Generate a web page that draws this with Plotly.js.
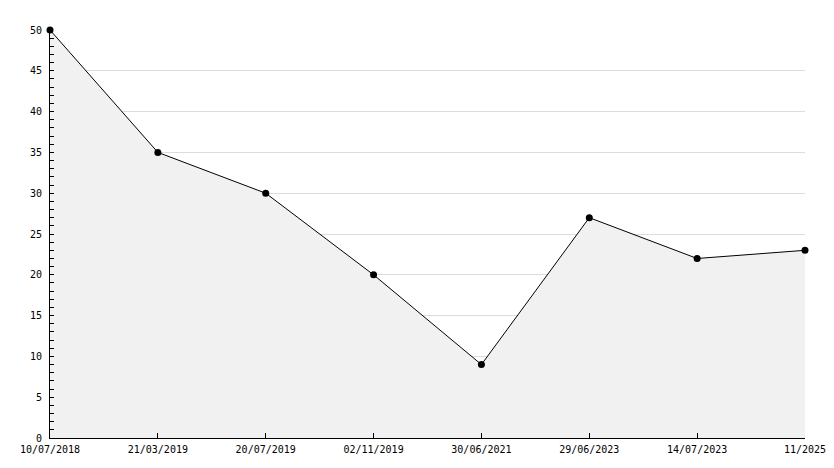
<!DOCTYPE html>
<html>
<head>
<meta charset="utf-8">
<script src="https://cdn.plot.ly/plotly-3.0.1.min.js"></script>
<style>html,body{margin:0;padding:0;background:#fff;}#chart{width:834px;height:468px;}</style>
</head>
<body>
<div id="chart"></div>
<script>
const dateLabels = ["10/07/2018", "21/03/2019", "20/07/2019", "02/11/2019", "30/06/2021", "29/06/2023", "14/07/2023", "11/2025"];
const values = [50, 35, 30, 20, 9, 27, 22, 23];

const idx = dateLabels.map((_, i) => i);
const lastI = idx[idx.length - 1];
const lastV = values[values.length - 1];

const traces = [
  {
    x: [lastI, lastI], y: [0, lastV], type: 'scatter', mode: 'lines',
    line: {color: '#000', width: 1}, hoverinfo: 'skip', showlegend: false
  },
  {
    x: idx, y: values, type: 'scatter', mode: 'lines+markers',
    fill: 'tozeroy', fillcolor: '#f1f1f1',
    line: {color: '#000', width: 1},
    marker: {color: '#000', size: 7, symbol: 'circle'},
    cliponaxis: false,
    hoverinfo: 'skip'
  }
];

const font = {family: '"DejaVu Sans Mono", monospace', size: 10, color: '#000'};

const layout = {
  width: 834, height: 468,
  margin: {l: 50, r: 29, t: 30, b: 30},
  paper_bgcolor: '#fff', plot_bgcolor: '#fff',
  showlegend: false,
  font: font,
  xaxis: {
    range: [0, lastI], tickmode: 'array', tickvals: idx, ticktext: dateLabels,
    showgrid: false, zeroline: false,
    showline: true, linecolor: '#000', linewidth: 1,
    ticks: 'inside', ticklen: 5, tickcolor: '#000', tickwidth: 1,
    ticklabelstandoff: 2,
    tickfont: font, fixedrange: true
  },
  yaxis: {
    range: [0, 50], tick0: 0, dtick: 5,
    showgrid: true, gridcolor: '#dcdcdc', gridwidth: 1,
    zeroline: false,
    showline: true, linecolor: '#000', linewidth: 1,
    ticks: 'inside', ticklen: 4, tickcolor: '#000', tickwidth: 1,
    minor: {ticks: 'inside', dtick: 1, ticklen: 4, tickcolor: '#000', showgrid: false},
    ticklabelstandoff: 5,
    tickfont: font, fixedrange: true
  }
};

Plotly.newPlot('chart', traces, layout, {displayModeBar: false, staticPlot: true});
</script>
</body>
</html>
